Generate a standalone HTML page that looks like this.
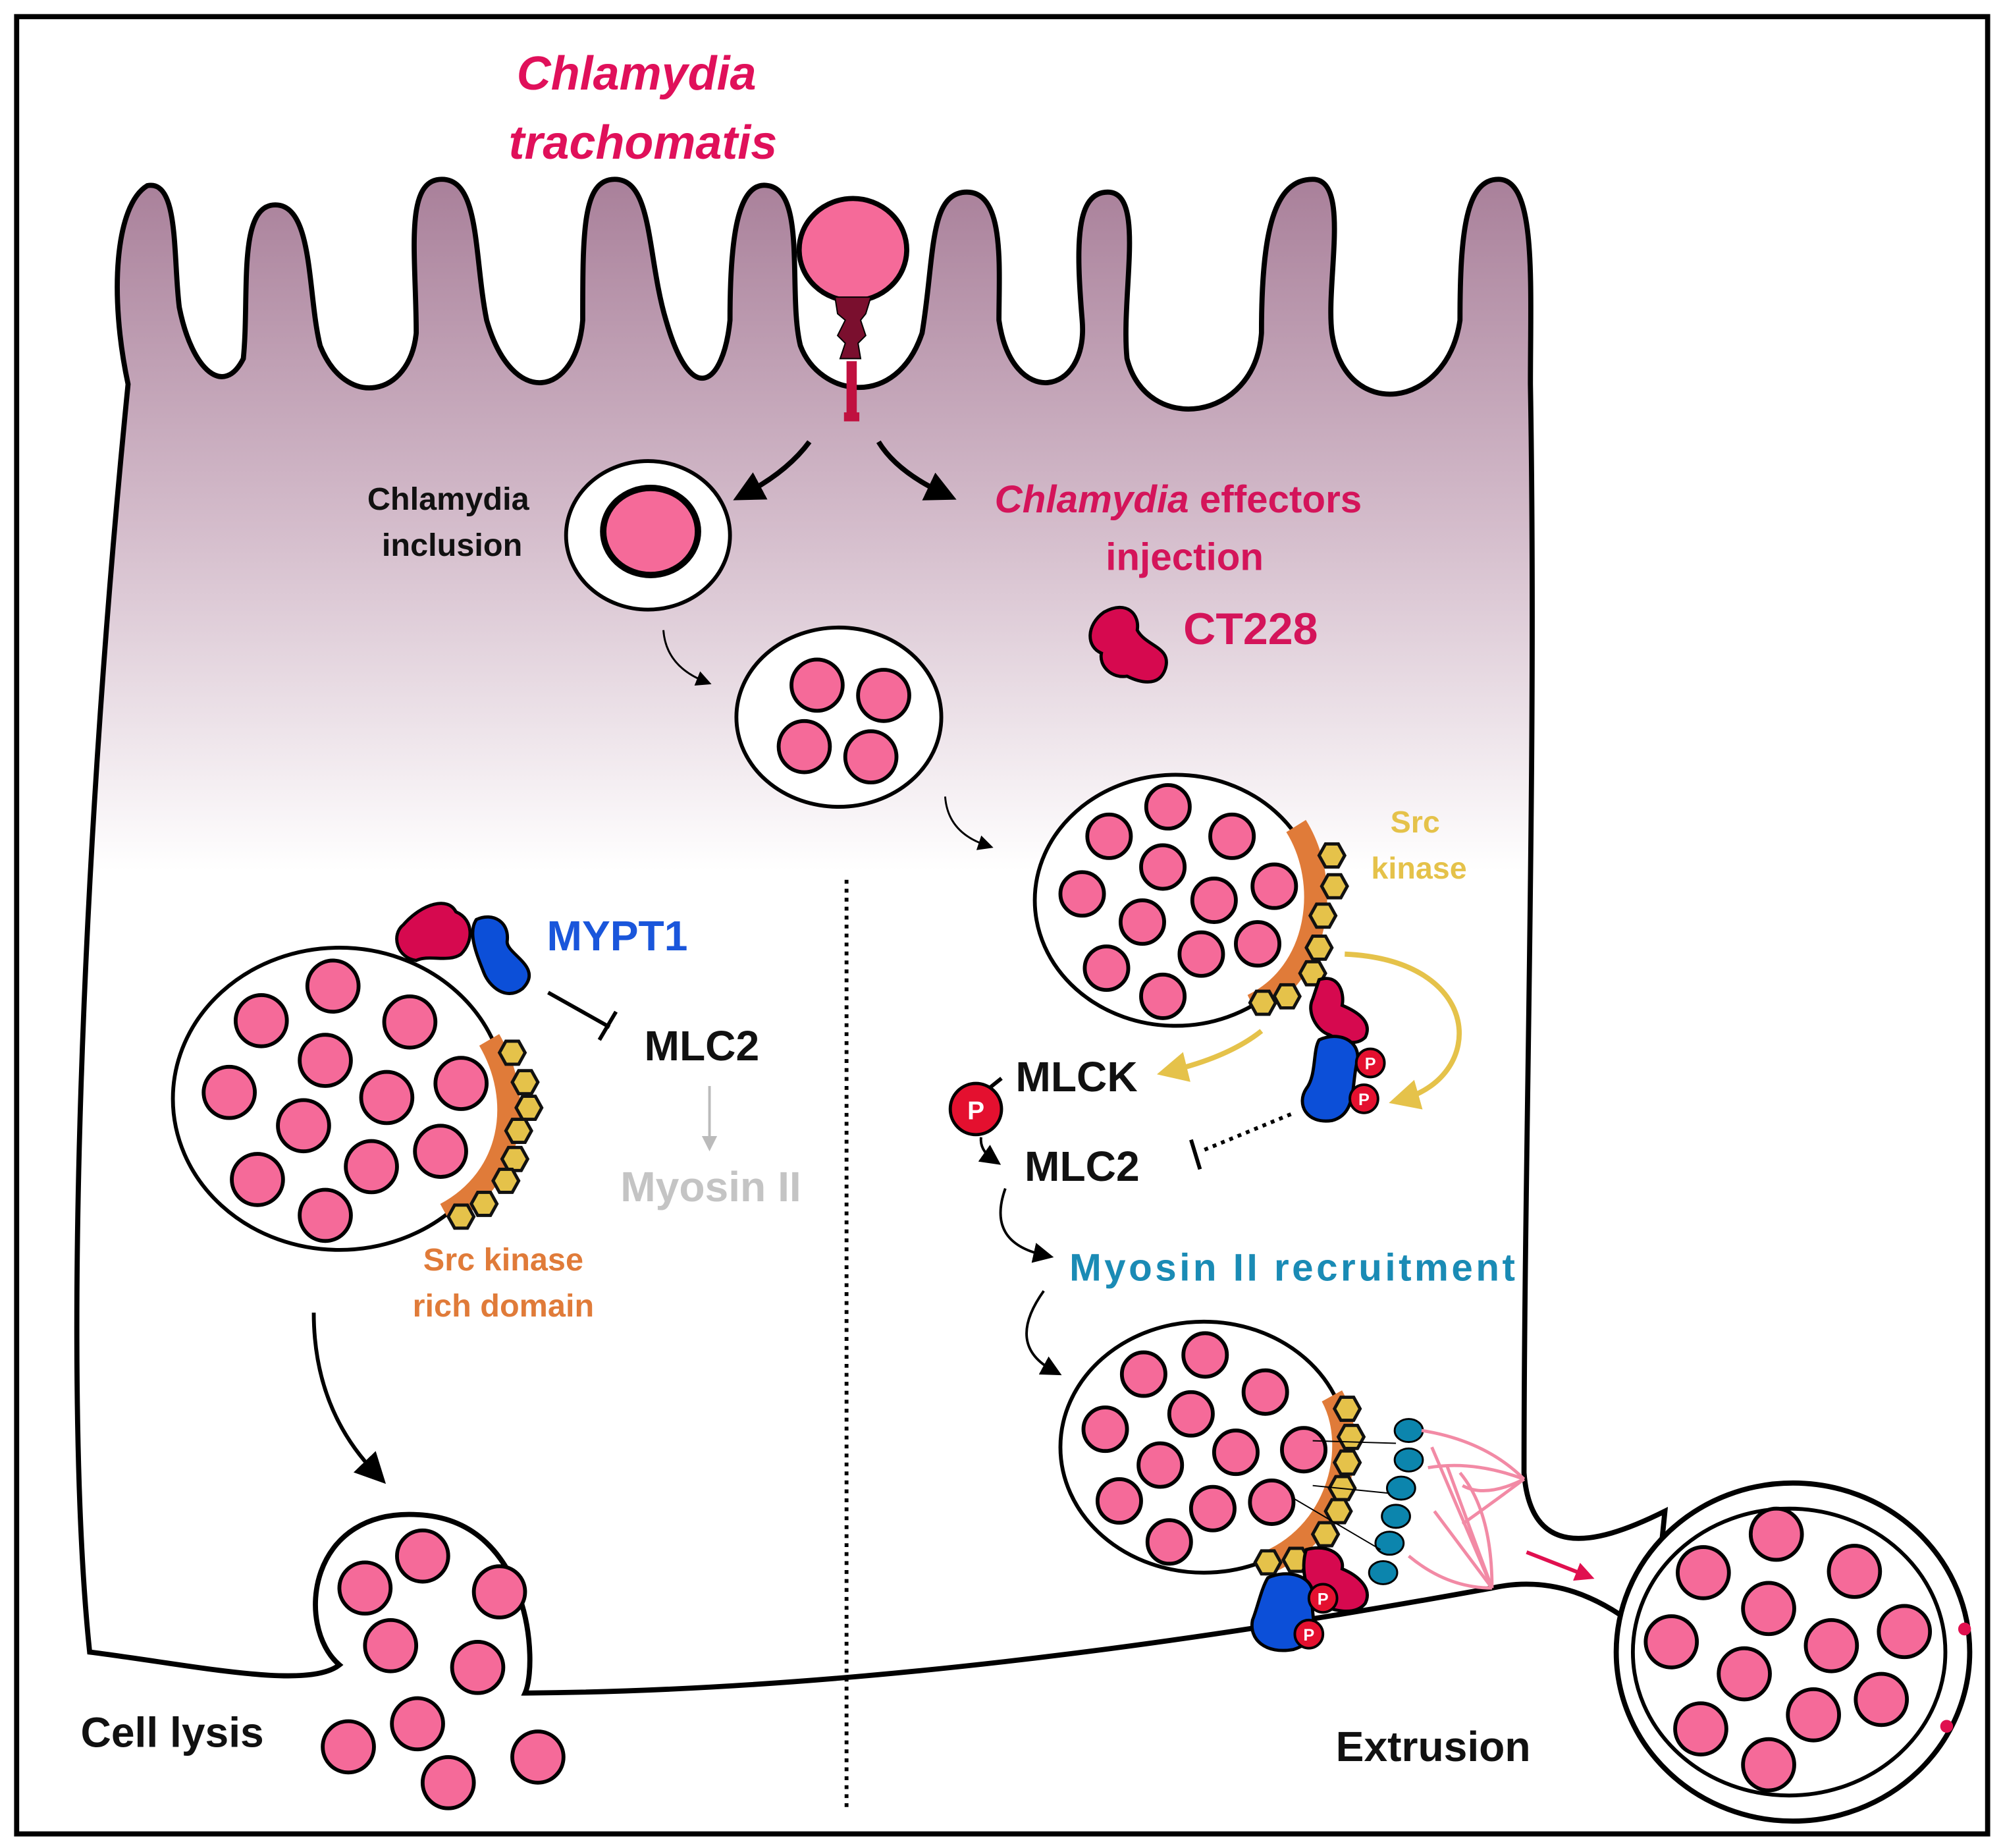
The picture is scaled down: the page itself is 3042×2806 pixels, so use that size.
<!DOCTYPE html>
<html><head><meta charset="utf-8"><style>
html,body{margin:0;padding:0;background:#fff}
svg{display:block}
text{font-family:"Liberation Sans",sans-serif;font-weight:bold}
</style></head><body>
<svg width="3042" height="2806" viewBox="0 0 1564 1443" preserveAspectRatio="none" xmlns="http://www.w3.org/2000/svg">
<defs>
<linearGradient id="g" gradientUnits="userSpaceOnUse" x1="0" y1="140" x2="0" y2="680">
<stop offset="0" stop-color="#a9809a"/><stop offset="0.5" stop-color="#d4bccb"/><stop offset="1" stop-color="#ffffff"/></linearGradient>
<polygon id="hx" points="-10,0 -5,-9 5,-9 10,0 5,9 -5,9" fill="#e5c24a" stroke="#111" stroke-width="2.5"/>
<marker id="ah" markerWidth="6" markerHeight="6" refX="3" refY="3" orient="auto" markerUnits="strokeWidth"><path d="M0,0 L6,3 L0,6 z" fill="#000"/></marker>
<marker id="ahs" markerWidth="8" markerHeight="8" refX="4" refY="4" orient="auto" markerUnits="strokeWidth"><path d="M0,0 L8,4 L0,8 z" fill="#000"/></marker>
<marker id="ahy" markerWidth="6" markerHeight="6" refX="3" refY="3" orient="auto" markerUnits="strokeWidth"><path d="M0,0 L6,3 L0,6 z" fill="#e5c24a"/></marker>
<marker id="ahg" markerWidth="6" markerHeight="6" refX="3" refY="3" orient="auto" markerUnits="strokeWidth"><path d="M0,0 L6,3 L0,6 z" fill="#bbb"/></marker>
<marker id="ahr" markerWidth="5" markerHeight="5" refX="2.5" refY="2.5" orient="auto" markerUnits="strokeWidth"><path d="M0,0 L5,2.5 L0,5 z" fill="#e0104f"/></marker>
</defs>
<rect x="13" y="13" width="1539" height="1419" fill="#fff" stroke="#000" stroke-width="4"/>
<!-- cell -->
<path d="M70 1290 C50 1100,60 700,100 300 C85 230,90 160,115 145 C140 140,135 200,140 240 C150 290,175 310,190 280 C195 230,185 160,215 160 C245 160,240 230,250 270 C270 320,320 310,325 260 C325 200,315 140,345 140 C375 140,370 200,380 250 C400 320,450 310,455 250 C455 180,455 140,480 140 C510 140,505 200,520 250 C540 320,565 300,570 250 C570 190,575 140,600 145 C630 150,615 230,625 270 C640 310,700 320,720 260 C730 200,725 150,755 150 C785 150,780 210,780 250 C790 320,850 310,845 250 C840 190,840 150,865 150 C895 150,875 230,880 280 C895 340,980 330,985 260 C985 180,995 140,1025 140 C1055 140,1035 220,1040 260 C1050 330,1130 320,1140 250 C1140 180,1145 140,1170 140 C1200 140,1195 220,1195 300 C1200 600,1190 900,1190 1150 C1195 1215,1240 1210,1300 1180 L1290 1280 C1250 1245,1210 1230,1165 1240 C1000 1270,700 1320,410 1322 C420 1300,415 1190,330 1183 C240 1175,230 1270,265 1300 C240 1320,150 1300,70 1290 Z" fill="url(#g)" stroke="#000" stroke-width="4"/>
<!-- extruded -->
<ellipse cx="1400" cy="1290" rx="138" ry="132" fill="#fff" stroke="#000" stroke-width="4"/>
<ellipse cx="1397" cy="1290" rx="122" ry="112" fill="#fff" stroke="#000" stroke-width="3"/>
<circle cx="1534" cy="1272" r="5" fill="#e0104f"/><circle cx="1520" cy="1348" r="5" fill="#e0104f"/>
<!-- dotted -->
<line x1="661" y1="687" x2="661" y2="1415" stroke="#000" stroke-width="3" stroke-dasharray="3,4"/>
<!-- bacterium + injectisome -->
<ellipse cx="666" cy="195" rx="42" ry="40" fill="#f56a99" stroke="#000" stroke-width="4"/>
<path d="M652 232 L680 232 L676 245 L672 250 L676 262 L670 268 L672 280 L656 280 L660 268 L654 262 L660 250 L654 245 Z" fill="#7a0f2e" stroke="#000" stroke-width="1"/>
<rect x="661" y="282" width="8" height="42" fill="#c0103f"/>
<rect x="659" y="322" width="12" height="7" fill="#c0103f"/>
<!-- arrows top -->
<path d="M632 345 Q615 368 583 385" fill="none" stroke="#000" stroke-width="4" marker-end="url(#ah)"/>
<path d="M686 345 Q700 368 736 385" fill="none" stroke="#000" stroke-width="4" marker-end="url(#ah)"/>
<!-- inclusion 1 -->
<ellipse cx="506" cy="418" rx="64" ry="58" fill="#fff" stroke="#000" stroke-width="3"/>
<ellipse cx="508" cy="415" rx="37" ry="34" fill="#f56a99" stroke="#000" stroke-width="5"/>
<path d="M518 492 Q520 520 550 532" fill="none" stroke="#000" stroke-width="1.5" marker-end="url(#ahs)"/>
<!-- inclusion 2 -->
<ellipse cx="655" cy="560" rx="80" ry="70" fill="#fff" stroke="#000" stroke-width="3"/>
<g fill="#f56a99" stroke="#000" stroke-width="3">
<circle cx="638" cy="535" r="20"/><circle cx="690" cy="543" r="20"/><circle cx="628" cy="583" r="20"/><circle cx="680" cy="591" r="20"/></g>
<path d="M738 622 Q740 650 770 660" fill="none" stroke="#000" stroke-width="1.5" marker-end="url(#ahs)"/>
<!-- CT228 -->
<path d="M862 478 C880 468,890 480,888 492 C895 505,915 505,910 522 C905 538,888 532,880 528 C868 530,858 520,860 510 C848 505,848 488,862 478 Z" fill="#d6094f" stroke="#000" stroke-width="2.5"/>
<!-- inclusion 3 -->
<ellipse cx="918" cy="703" rx="110" ry="98" fill="#fff" stroke="#000" stroke-width="3"/>
<path d="M1012 645 C1040 690,1030 760,978 785" fill="none" stroke="#e07b39" stroke-width="18"/>
<g fill="#f56a99" stroke="#000" stroke-width="3">
<circle cx="912" cy="630" r="17"/><circle cx="866" cy="653" r="17"/><circle cx="962" cy="653" r="17"/><circle cx="908" cy="677" r="17"/><circle cx="845" cy="698" r="17"/><circle cx="948" cy="703" r="17"/><circle cx="995" cy="692" r="17"/><circle cx="892" cy="720" r="17"/><circle cx="938" cy="745" r="17"/><circle cx="982" cy="737" r="17"/><circle cx="864" cy="756" r="17"/><circle cx="908" cy="778" r="17"/></g>
<g><use href="#hx" x="1040" y="668"/><use href="#hx" x="1042" y="692"/><use href="#hx" x="1033" y="715"/><use href="#hx" x="1030" y="740"/><use href="#hx" x="1025" y="760"/><use href="#hx" x="1005" y="778"/><use href="#hx" x="986" y="783"/></g>
<!-- CT228+MYPT1 right -->
<path d="M1030 765 C1045 760,1050 775,1048 785 C1060 790,1072 798,1066 810 C1058 818,1045 812,1038 808 C1028 805,1020 790,1025 780 Z" fill="#d6094f" stroke="#000" stroke-width="2.5"/>
<path d="M1030 812 C1045 805,1062 812,1060 828 C1055 845,1060 870,1040 875 C1020 878,1012 862,1020 850 C1028 840,1025 820,1030 812 Z" fill="#0c4fd8" stroke="#000" stroke-width="2.5"/>
<circle cx="1070" cy="830" r="11" fill="#e4102f" stroke="#000" stroke-width="2"/><text x="1070" y="835" font-size="13" fill="#fff" text-anchor="middle">P</text>
<circle cx="1065" cy="858" r="11" fill="#e4102f" stroke="#000" stroke-width="2"/><text x="1065" y="863" font-size="13" fill="#fff" text-anchor="middle">P</text>
<!-- yellow arrows -->
<path d="M1050 745 C1160 750,1160 840,1096 858" fill="none" stroke="#e5c24a" stroke-width="4" marker-end="url(#ahy)"/>
<path d="M985 805 Q960 825 915 836" fill="none" stroke="#e5c24a" stroke-width="4" marker-end="url(#ahy)"/>
<!-- MLCK / MLC2 right -->
<line x1="772" y1="850" x2="782" y2="842" stroke="#000" stroke-width="3"/>
<circle cx="762" cy="866" r="20" fill="#e4102f" stroke="#000" stroke-width="2.5"/><text x="762" y="874" font-size="20" fill="#fff" text-anchor="middle">P</text>
<path d="M766 888 Q765 898 775 905" fill="none" stroke="#000" stroke-width="2" marker-end="url(#ahs)"/>
<path d="M1008 870 L940 898" stroke="#000" stroke-width="3" stroke-dasharray="3,4"/>
<line x1="930" y1="890" x2="937" y2="913" stroke="#000" stroke-width="3"/>
<path d="M785 928 Q770 970 815 980" fill="none" stroke="#000" stroke-width="2" marker-end="url(#ahs)"/>
<path d="M815 1008 Q785 1050 822 1070" fill="none" stroke="#000" stroke-width="2" marker-end="url(#ahs)"/>
<!-- inclusion bottom right -->
<ellipse cx="940" cy="1130" rx="112" ry="98" fill="#fff" stroke="#000" stroke-width="3"/>
<path d="M1040 1090 C1062 1130,1045 1200,985 1222" fill="none" stroke="#e07b39" stroke-width="18"/>
<g fill="#f56a99" stroke="#000" stroke-width="3">
<circle cx="941" cy="1058" r="17"/><circle cx="893" cy="1073" r="17"/><circle cx="988" cy="1087" r="17"/><circle cx="930" cy="1104" r="17"/><circle cx="863" cy="1116" r="17"/><circle cx="965" cy="1134" r="17"/><circle cx="1018" cy="1132" r="17"/><circle cx="906" cy="1144" r="17"/><circle cx="874" cy="1172" r="17"/><circle cx="947" cy="1178" r="17"/><circle cx="993" cy="1173" r="17"/><circle cx="913" cy="1204" r="17"/></g>
<g><use href="#hx" x="1052" y="1100"/><use href="#hx" x="1055" y="1122"/><use href="#hx" x="1052" y="1142"/><use href="#hx" x="1048" y="1162"/><use href="#hx" x="1045" y="1180"/><use href="#hx" x="1035" y="1198"/><use href="#hx" x="1012" y="1218"/><use href="#hx" x="990" y="1220"/></g>
<!-- myosin -->
<g fill="#0c85ad" stroke="#000" stroke-width="1.5">
<ellipse cx="1100" cy="1117" rx="11" ry="9"/><ellipse cx="1100" cy="1140" rx="11" ry="9"/><ellipse cx="1094" cy="1162" rx="11" ry="9"/><ellipse cx="1090" cy="1184" rx="11" ry="9"/><ellipse cx="1085" cy="1205" rx="11" ry="9"/><ellipse cx="1080" cy="1228" rx="11" ry="9"/></g>
<g stroke="#000" stroke-width="1" fill="none"><path d="M1025 1125 L1090 1127"/><path d="M1025 1160 L1085 1166"/><path d="M1010 1170 L1078 1210"/></g>
<g stroke="#f28aa5" stroke-width="2.5" fill="none">
<path d="M1110 1117 Q1160 1125 1190 1155"/><path d="M1115 1146 Q1150 1140 1190 1155"/><path d="M1142 1160 Q1160 1170 1190 1155"/><path d="M1142 1190 Q1170 1170 1190 1155"/>
<path d="M1118 1130 L1165 1240"/><path d="M1130 1145 L1165 1240"/><path d="M1100 1215 Q1130 1240 1165 1240"/><path d="M1120 1180 L1165 1240"/><path d="M1165 1240 Q1165 1180 1140 1150"/>
</g>
<line x1="1192" y1="1212" x2="1238" y2="1230" stroke="#e0104f" stroke-width="3" marker-end="url(#ahr)"/>
<path d="M1020 1210 C1038 1205,1050 1215,1048 1225 C1060 1230,1072 1240,1066 1252 C1058 1262,1040 1258,1030 1252 C1020 1245,1015 1225,1020 1210 Z" fill="#d6094f" stroke="#000" stroke-width="2.5"/>
<path d="M990 1232 C1005 1225,1025 1230,1025 1245 C1022 1262,1035 1280,1010 1288 C988 1292,975 1280,978 1265 C982 1255,985 1240,990 1232 Z" fill="#0c4fd8" stroke="#000" stroke-width="2.5"/>
<circle cx="1033" cy="1248" r="11" fill="#e4102f" stroke="#000" stroke-width="2"/><text x="1033" y="1253" font-size="13" fill="#fff" text-anchor="middle">P</text>
<circle cx="1022" cy="1276" r="11" fill="#e4102f" stroke="#000" stroke-width="2"/><text x="1022" y="1281" font-size="13" fill="#fff" text-anchor="middle">P</text>
<!-- left inclusion -->
<ellipse cx="265" cy="858" rx="130" ry="118" fill="#fff" stroke="#000" stroke-width="3"/>
<path d="M382 812 C410 860,400 920,348 948" fill="none" stroke="#e07b39" stroke-width="18"/>
<g fill="#f56a99" stroke="#000" stroke-width="3">
<circle cx="260" cy="770" r="20"/><circle cx="204" cy="797" r="20"/><circle cx="320" cy="798" r="20"/><circle cx="254" cy="828" r="20"/><circle cx="179" cy="853" r="20"/><circle cx="360" cy="846" r="20"/><circle cx="302" cy="857" r="20"/><circle cx="237" cy="879" r="20"/><circle cx="344" cy="899" r="20"/><circle cx="201" cy="921" r="20"/><circle cx="290" cy="911" r="20"/><circle cx="254" cy="949" r="20"/></g>
<g><use href="#hx" x="400" y="822"/><use href="#hx" x="410" y="845"/><use href="#hx" x="413" y="865"/><use href="#hx" x="405" y="883"/><use href="#hx" x="402" y="905"/><use href="#hx" x="395" y="922"/><use href="#hx" x="378" y="940"/><use href="#hx" x="360" y="950"/></g>
<!-- left CT228 + MYPT1 -->
<path d="M315 722 C330 705,350 700,356 712 C370 718,370 735,360 745 C350 752,335 745,325 750 C310 748,305 730,315 722 Z" fill="#d6094f" stroke="#000" stroke-width="2.5"/>
<path d="M372 718 C385 712,398 720,396 735 C395 745,425 755,408 772 C395 782,382 770,378 760 C372 745,365 728,372 718 Z" fill="#0c4fd8" stroke="#000" stroke-width="2.5"/>
<line x1="428" y1="775" x2="476" y2="802" stroke="#000" stroke-width="3"/>
<line x1="468" y1="812" x2="481" y2="790" stroke="#000" stroke-width="3"/>
<line x1="554" y1="848" x2="554" y2="893" stroke="#bbb" stroke-width="2" marker-end="url(#ahg)"/>
<path d="M245 1025 Q245 1100 293 1150" fill="none" stroke="#000" stroke-width="3" marker-end="url(#ahs)"/>
<!-- lysis circles -->
<g fill="#f56a99" stroke="#000" stroke-width="3">
<circle cx="285" cy="1240" r="20"/><circle cx="330" cy="1215" r="20"/><circle cx="390" cy="1243" r="20"/><circle cx="305" cy="1285" r="20"/><circle cx="373" cy="1302" r="20"/><circle cx="272" cy="1364" r="20"/><circle cx="326" cy="1346" r="20"/><circle cx="350" cy="1392" r="20"/><circle cx="420" cy="1372" r="20"/></g>
<!-- extruded circles -->
<g fill="#f56a99" stroke="#000" stroke-width="3">
<circle cx="1387" cy="1198" r="20"/><circle cx="1330" cy="1228" r="20"/><circle cx="1448" cy="1227" r="20"/><circle cx="1381" cy="1256" r="20"/><circle cx="1305" cy="1282" r="20"/><circle cx="1430" cy="1285" r="20"/><circle cx="1487" cy="1274" r="20"/><circle cx="1362" cy="1307" r="20"/><circle cx="1469" cy="1327" r="20"/><circle cx="1328" cy="1350" r="20"/><circle cx="1416" cy="1339" r="20"/><circle cx="1381" cy="1378" r="20"/></g>
<!-- texts -->
<g font-style="italic" fill="#e0105a" font-size="37" text-anchor="middle">
<text x="497" y="70">Chlamydia</text><text x="502" y="124">trachomatis</text></g>
<g font-size="25" text-anchor="middle" fill="#111"><text x="350" y="398">Chlamydia</text><text x="353" y="434">inclusion</text></g>
<text x="920" y="400" font-size="30" text-anchor="middle" fill="#d4145a"><tspan font-style="italic">Chlamydia</tspan> effectors</text>
<text x="925" y="445" font-size="30" text-anchor="middle" fill="#d4145a">injection</text>
<text x="924" y="503" font-size="35" fill="#d4145a">CT228</text>
<g font-size="24" text-anchor="middle" fill="#e5c24a"><text x="1105" y="650">Src</text><text x="1108" y="686">kinase</text></g>
<text x="427" y="742" font-size="33" fill="#1a56db">MYPT1</text>
<text x="548" y="828" font-size="33" text-anchor="middle" fill="#111">MLC2</text>
<text x="555" y="938" font-size="33" text-anchor="middle" fill="#c4c4c4">Myosin II</text>
<g font-size="25" text-anchor="middle" fill="#e07b39"><text x="393" y="992">Src kinase</text><text x="393" y="1028">rich domain</text></g>
<text x="793" y="852" font-size="33" fill="#111">MLCK</text>
<text x="800" y="922" font-size="33" fill="#111">MLC2</text>
<text x="835" y="1000" font-size="30" fill="#1a8bb5" textLength="348">Myosin II recruitment</text>
<text x="63" y="1364" font-size="33" fill="#111">Cell lysis</text>
<text x="1043" y="1375" font-size="33" fill="#111">Extrusion</text>
</svg>
</body></html>
